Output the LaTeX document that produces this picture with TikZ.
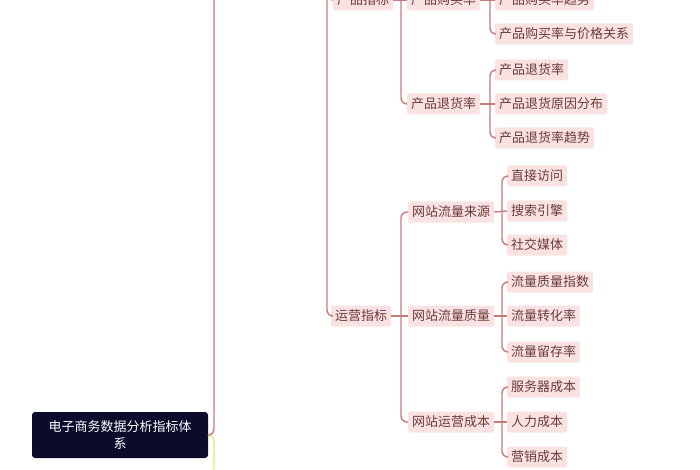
\documentclass[tikz,border=0pt]{standalone}
\usepackage{fontspec}
\setmainfont{Noto Sans CJK SC}
\definecolor{nodefill}{HTML}{FBE2E2}
\definecolor{nodetext}{HTML}{6B3A3A}
\definecolor{linecol}{HTML}{C87B7C}
\definecolor{rootfill}{HTML}{0B0B2C}
\definecolor{yel}{HTML}{F2E27A}
\begin{document}
\begin{tikzpicture}[x=1pt,y=-1pt,
  leaf/.style={fill=nodefill, text=nodetext, rounded corners=2pt, inner xsep=4pt, inner ysep=0pt,
    minimum height=21pt, font=\fontsize{13}{15}\selectfont, anchor=west},
  rootbox/.style={fill=rootfill, text=white, rounded corners=3pt, minimum width=176pt, minimum height=46pt,
    align=center, font=\fontsize{13}{17}\selectfont},
  link/.style={draw=linecol, line width=1.4pt, rounded corners=6pt},
  ylink/.style={draw=yel, line width=1.4pt, rounded corners=6pt}]
\useasboundingbox (0,0) rectangle (700,470);
\fill[white] (0,0) rectangle (700,470);
\clip (0,0) rectangle (700,470);

% coordinates beyond the frame
\coordinate (topT) at (214,-40);
\coordinate (botT) at (214,510);
\coordinate (topA) at (327,-40);
\coordinate (hidB) at (407,-104);
\coordinate (hidC) at (495,-34);

% nodes
\node[rootbox] (root) at (120,435) {电子商务数据分析指标体\\系};

\node[leaf] (chanpin) at (333,0) {产品指标};
\node[leaf] (goumai) at (407,0) {产品购买率};
\node[leaf] (tuihuo) at (407,104) {产品退货率};
\node[leaf] (gm1) at (495,0) {产品购买率趋势};
\node[leaf] (gm2) at (495,34) {产品购买率与价格关系};
\node[leaf] (th1) at (495,70) {产品退货率};
\node[leaf] (th2) at (495,104) {产品退货原因分布};
\node[leaf] (th3) at (495,138) {产品退货率趋势};

\node[leaf] (yunying) at (331,316) {运营指标};
\node[leaf] (ly) at (408,212) {网站流量来源};
\node[leaf] (zl) at (408,316) {网站流量质量};
\node[leaf] (cb) at (408,422) {网站运营成本};
\node[leaf] (ly1) at (507,176) {直接访问};
\node[leaf] (ly2) at (507,211) {搜索引擎};
\node[leaf] (ly3) at (507,245) {社交媒体};
\node[leaf] (zl1) at (507,282) {流量质量指数};
\node[leaf] (zl2) at (507,316) {流量转化率};
\node[leaf] (zl3) at (507,352) {流量留存率};
\node[leaf] (cb1) at (507,387) {服务器成本};
\node[leaf] (cb2) at (507,422) {人力成本};
\node[leaf] (cb3) at (507,457) {营销成本};

% trunk
\draw[ylink] (root.east) -| (botT);
\draw[link] (root.east) -| (topT);

% level A
\draw[link] (topA) |- (chanpin.west);
\draw[link] (topA) |- (yunying.west);

% products
\draw[link] (chanpin.east) -- (goumai.west);
\draw[link] (hidB) -| (401,0) |- (tuihuo.west);
\draw[link] (goumai.east) -- (gm1.west);
\draw[link] (hidC) -| (490,0) |- (gm2.west);
\draw[link] (tuihuo.east) -- (th2.west);
\draw[link] (th1.west) -| (490,104) |- (th3.west);

% operations
\draw[link] (yunying.east) -- (zl.west);
\draw[link] (ly.west) -| (401,316) |- (cb.west);
\draw[link] (ly.east) -- (ly2.west);
\draw[link] (ly1.west) -| (502,211) |- (ly3.west);
\draw[link] (zl.east) -- (zl2.west);
\draw[link] (zl1.west) -| (502,316) |- (zl3.west);
\draw[link] (cb.east) -- (cb2.west);
\draw[link] (cb1.west) -| (502,422) |- (cb3.west);
\end{tikzpicture}
\end{document}
